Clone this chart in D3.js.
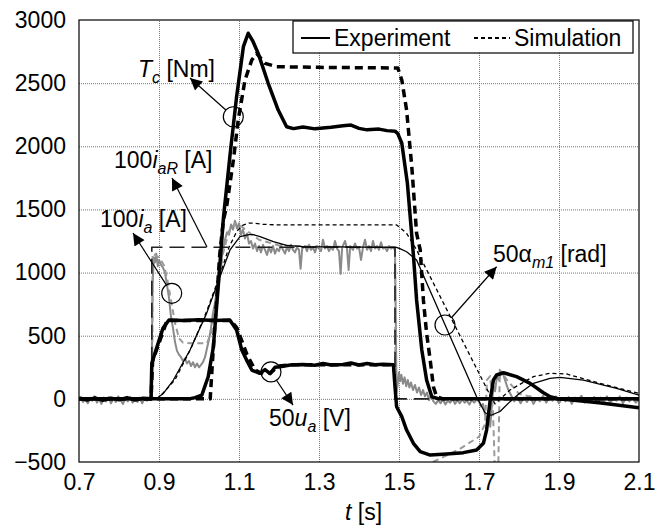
<!DOCTYPE html>
<html>
<head>
<meta charset="utf-8">
<script src="https://cdn.jsdelivr.net/npm/d3@7"></script>
<style>
  body { margin: 0; background: #fff; }
  svg { font-family: Arial, "Liberation Sans", sans-serif; }
</style>
</head>
<body>
<svg id="chart" width="662" height="529"></svg>
<script>
// axis ticks
var xTicks = [0.7, 0.9, 1.1, 1.3, 1.5, 1.7, 1.9, 2.1];
var yTicks = [-500, 0, 500, 1000, 1500, 2000, 2500, 3000];
var legendLabels = ["Experiment", "Simulation"];

// [t, value] pairs
var tcExp = [[0.7,0],[0.975,0],[0.99,10],[1.007,30],[1.023,175],[1.036,413],[1.048,888],[1.061,1430],[1.078,1944],[1.094,2393],[1.111,2789],[1.123,2895],[1.135,2830],[1.148,2736],[1.173,2499],[1.198,2287],[1.219,2155],[1.236,2140],[1.26,2152],[1.29,2138],[1.33,2150],[1.36,2162],[1.38,2168],[1.4,2142],[1.42,2130],[1.45,2136],[1.47,2124],[1.49,2120],[1.497,2100],[1.507,2024],[1.521,1707],[1.536,1140],[1.544,783],[1.557,387],[1.569,149],[1.582,17],[1.6,0],[2.1,0]];

var tcSim = [[0.7,0],[1.028,0],[1.036,413],[1.044,780],[1.052,1150],[1.061,1416],[1.069,1522],[1.086,1891],[1.098,2208],[1.115,2525],[1.132,2683],[1.144,2736],[1.165,2657],[1.194,2630],[1.3,2625],[1.497,2620],[1.507,2525],[1.519,2287],[1.532,1838],[1.544,1311],[1.553,1179],[1.561,783],[1.569,519],[1.578,307],[1.586,96],[1.594,17],[1.61,0],[2.1,0]];

var uaExp = [[0.7,5],[0.72,-10],[0.74,8],[0.76,-12],[0.78,6],[0.8,-8],[0.82,10],[0.84,-10],[0.86,5],[0.88,0],[0.882,280],[0.895,413],[0.91,560],[0.925,624],[0.96,620],[1.0,626],[1.04,620],[1.077,624],[1.094,545],[1.107,387],[1.119,307],[1.132,228],[1.152,202],[1.165,232],[1.178,200],[1.19,250],[1.203,255],[1.228,268],[1.26,272],[1.29,266],[1.31,280],[1.33,268],[1.36,272],[1.38,284],[1.4,268],[1.42,280],[1.44,270],[1.46,274],[1.486,270],[1.49,96],[1.494,-62],[1.507,-141],[1.519,-247],[1.536,-352],[1.553,-418],[1.578,-445],[1.619,-437],[1.661,-426],[1.694,-405],[1.711,-352],[1.719,-247],[1.728,-9],[1.736,149],[1.744,189],[1.761,207],[1.794,176],[1.828,123],[1.86,50],[1.878,17],[1.9,0],[2.0,-30],[2.1,-70]];

var uaSim = [[0.7,0],[0.88,0],[0.884,300],[0.92,620],[1.08,620],[1.095,560],[1.12,350],[1.14,230],[1.16,195],[1.18,210],[1.2,260],[1.23,270],[1.49,270]];

var iaExp = [[0.7,-10],[0.705,15],[0.71,-25],[0.716,5],[0.722,-35],[0.728,10],[0.733,-15],[0.739,20],[0.745,-30],[0.75,0],[0.756,-40],[0.762,10],[0.768,-20],[0.774,15],[0.78,-35],[0.786,5],[0.792,-25],[0.798,20],[0.804,-10],[0.81,-40],[0.816,5],[0.822,-20],[0.828,15],[0.834,-30],[0.84,0],[0.846,-25],[0.852,10],[0.858,-35],[0.864,5],[0.87,-15],[0.876,10],[0.881,-5],
  [0.884,900],[0.887,1120],[0.89,1080],[0.893,1150],[0.897,1050],[0.9,1100],[0.905,1060],[0.91,1040],[0.915,1000],[0.92,900],[0.925,800],[0.93,650],[0.935,560],[0.94,450],[0.945,380],[0.95,350],[0.955,330],[0.96,300],[0.965,320],[0.97,280],[0.975,300],[0.98,260],[0.985,290],[0.99,250],[0.995,280],[1.0,250],[1.005,270],[1.01,290],[1.015,330],[1.02,400],[1.025,470],[1.03,560],[1.035,680],[1.04,760],[1.045,880],[1.05,980],[1.055,1080],[1.06,1180],[1.065,1260],[1.07,1320],[1.075,1300],[1.08,1380],[1.085,1340],[1.09,1410],[1.095,1350],[1.1,1390],[1.105,1300],[1.11,1340],[1.115,1270],[1.12,1310],[1.125,1230],
  [1.13,1250],[1.135,1190],[1.14,1230],[1.145,1170],[1.15,1210],[1.155,1160],[1.16,1220],[1.165,1180],[1.17,1140],[1.175,1200],[1.18,1160],[1.185,1210],[1.19,1150],[1.195,1190],[1.2,1170],[1.205,1220],[1.21,1180],[1.215,1150],[1.22,1200],[1.225,1170],[1.23,1220],[1.235,1180],[1.24,1160],[1.245,1200],[1.25,1180],[1.254,1030],[1.258,1190],[1.265,1210],[1.27,1170],[1.275,1220],[1.28,1180],[1.285,1200],[1.29,1160],[1.295,1210],[1.3,1190],[1.305,1170],[1.31,1260],[1.315,1190],[1.32,1210],[1.325,1170],[1.33,1200],[1.335,1180],[1.34,1250],[1.345,1190],[1.35,1170],[1.354,990],[1.358,1200],[1.365,1250],[1.37,1190],[1.374,1020],[1.378,1210],[1.385,1180],[1.39,1230],[1.395,1190],[1.4,1200],[1.405,1100],[1.41,1200],[1.415,1260],[1.42,1180],[1.425,1210],[1.43,1170],[1.435,1250],[1.44,1190],[1.445,1210],[1.45,1180],[1.455,1240],[1.46,1190],[1.465,1200],[1.47,1170],[1.475,1210],[1.48,1190],[1.485,1200],[1.49,1180],
  [1.492,600],[1.494,50],[1.497,120],[1.5,210],[1.503,140],[1.506,190],[1.51,120],[1.514,170],[1.518,100],[1.522,150],[1.526,90],[1.53,130],[1.535,70],[1.54,110],[1.545,50],[1.55,90],[1.555,30],[1.56,70],[1.565,20],[1.57,50],[1.575,-10],[1.58,30],[1.586,-20],[1.592,-40],[1.598,-10],[1.604,-35],[1.61,-5],[1.616,-45],[1.622,-15],[1.628,-30],[1.634,0],[1.64,-40],[1.646,-10],[1.652,-35],[1.658,-5],[1.664,-30],[1.67,-15],[1.676,-45],[1.682,-10],[1.688,-30],[1.694,-5],[1.7,-20],[1.705,-60],[1.71,-40],[1.715,-120],[1.72,-180],[1.725,-100],[1.728,-220],[1.732,-60],[1.736,100],[1.74,60],[1.745,180],[1.75,150],[1.755,210],[1.76,200],[1.765,150],[1.77,100],[1.775,60],[1.78,30],
  [1.788,-20],[1.796,15],[1.804,-35],[1.812,10],[1.82,-25],[1.828,20],[1.836,-40],[1.844,5],[1.852,-20],[1.86,25],[1.868,-30],[1.876,10],[1.884,-15],[1.892,20],[1.9,-35],[1.908,5],[1.916,-20],[1.924,15],[1.932,-40],[1.94,10],[1.948,-15],[1.956,25],[1.964,-30],[1.972,5],[1.98,-20],[1.988,15],[1.996,-35],[2.004,10],[2.012,-25],[2.02,20],[2.028,-30],[2.036,5],[2.044,-15],[2.052,20],[2.06,-35],[2.068,10],[2.076,-20],[2.084,5],[2.092,-30],[2.1,0]];

var iaSim = [[0.7,0],[0.883,0],[0.884,1150],[0.9,1120],[0.912,1060],[0.92,960],[0.93,780],[0.94,600],[0.95,480],[0.96,445],[0.98,440],[1.02,440],[1.03,520],[1.045,800],[1.06,1150],[1.075,1330],[1.09,1390],[1.1,1380],[1.12,1330],[1.15,1260],[1.2,1215],[1.3,1205],[1.49,1200],[1.491,0],[1.5,0],[1.5,null],
  [1.585,-500],[1.65,-400],[1.7,-300],[1.715,-200],[1.72,150],[1.728,180],[1.735,-100],[1.74,-600],[1.748,-600],[1.752,230],[1.77,150],[1.8,40],[1.85,0],[1.9,0],[2.0,-30],[2.1,-70]];

var iaRef = [[0.7,0],[0.882,0],[0.882,1200],[1.49,1200],[1.49,0],[2.1,0]];

var alphaExp = [[0.7,0],[0.885,0],[0.894,3],[0.91,40],[0.936,149],[0.9775,387],[1.019,677],[1.0525,967],[1.0775,1179],[1.1025,1284],[1.125,1300],[1.136,1300],[1.1525,1284],[1.186,1245],[1.219,1215],[1.26,1205],[1.494,1200],[1.505,1185],[1.519,1165],[1.544,1100],[1.694,17],[1.715,-110],[1.73,-130],[1.7525,-100],[1.7775,-22],[1.8,40],[1.836,123],[1.8775,162],[1.9025,170],[1.961,149],[2.044,83],[2.1,30]];

var alphaSim = [[0.7,0],[0.89,0],[0.9,10],[0.94,150],[0.98,400],[1.02,700],[1.05,960],[1.075,1200],[1.095,1330],[1.11,1375],[1.125,1392],[1.14,1390],[1.16,1382],[1.2,1377],[1.494,1377],[1.519,1311],[1.544,1179],[1.7275,30],[1.74,-40],[1.7775,70],[1.836,176],[1.8775,202],[1.919,197],[2.0025,123],[2.1,44]];

var margin = {top: 20, right: 23, bottom: 67, left: 79},
  width = 662 - margin.left - margin.right,
  height = 529 - margin.top - margin.bottom;

var fs = 23;

var x = d3.scaleLinear().domain([0.7, 2.1]).range([margin.left, margin.left + width]);
var y = d3.scaleLinear().domain([-500, 3000]).range([margin.top + height, margin.top]);

var svg = d3.select("#chart");

svg.append("defs").append("clipPath").attr("id", "plot")
  .append("rect")
  .attr("x", margin.left).attr("y", margin.top)
  .attr("width", width).attr("height", height);

var marker = svg.select("defs").append("marker")
  .attr("id", "arrow")
  .attr("viewBox", "0 0 10 10")
  .attr("refX", 10).attr("refY", 5)
  .attr("markerUnits", "userSpaceOnUse")
  .attr("markerWidth", 16).attr("markerHeight", 12)
  .attr("orient", "auto");
marker.append("path").attr("d", "M0,0L10,5L0,10Z").attr("fill", "#000");

// grid
svg.append("g")
  .attr("transform", "translate(0," + (margin.top + height) + ")")
  .call(d3.axisBottom(x).tickValues(xTicks.slice(1, -1)).tickSize(-height).tickFormat(""))
  .call(g => g.select(".domain").remove())
  .selectAll("line")
  .attr("stroke", "#777").attr("stroke-width", 1).attr("stroke-dasharray", "1,1");

svg.append("g")
  .attr("transform", "translate(" + margin.left + ",0)")
  .call(d3.axisLeft(y).tickValues(yTicks.slice(1, -1)).tickSize(-width).tickFormat(""))
  .call(g => g.select(".domain").remove())
  .selectAll("line")
  .attr("stroke", "#777").attr("stroke-width", 1).attr("stroke-dasharray", "1,1");

var line = d3.line()
  .defined(d => d[1] !== null)
  .x(d => x(d[0]))
  .y(d => y(d[1]));

var plot = svg.append("g").attr("clip-path", "url(#plot)");

function draw(data, color, w, dash) {
  plot.append("path")
    .datum(data)
    .attr("fill", "none")
    .attr("stroke", color)
    .attr("stroke-width", w)
    .attr("stroke-dasharray", dash || null)
    .attr("stroke-linejoin", "round")
    .attr("d", line);
}

draw(iaExp, "#8a8a8a", 2);
draw(iaSim, "#9a9a9a", 2, "6,4");
draw(iaRef, "#222", 1.6, "15,7");
draw(alphaSim, "#000", 1.3, "4,3");
draw(alphaExp, "#000", 1.3);
draw(uaSim, "#000", 3.5, "8,5");
draw(tcSim, "#000", 3.5, "8,5");
draw(uaExp, "#000", 3.5);
draw(tcExp, "#000", 3.5);

// frame
svg.append("rect")
  .attr("x", margin.left).attr("y", margin.top)
  .attr("width", width).attr("height", height)
  .attr("fill", "none").attr("stroke", "#000").attr("stroke-width", 1.2);

// axes labels
var xAxis = svg.append("g")
  .attr("transform", "translate(0," + (margin.top + height) + ")")
  .call(d3.axisBottom(x).tickValues(xTicks).tickSize(0).tickPadding(12).tickFormat(d3.format(".1f")));
var yAxis = svg.append("g")
  .attr("transform", "translate(" + margin.left + ",0)")
  .call(d3.axisLeft(y).tickValues(yTicks).tickSize(0).tickPadding(13).tickFormat(d3.format("d")));
[xAxis, yAxis].forEach(g => {
  g.select(".domain").remove();
  g.selectAll("text").attr("font-size", fs).attr("font-family", "Arial, 'Liberation Sans', sans-serif").attr("fill", "#000");
});

var xl = svg.append("text")
  .attr("x", x(1.4) - 14).attr("y", 520)
  .attr("font-size", fs);
xl.append("tspan").attr("font-style", "italic").text("t");
xl.append("tspan").text(" [s]");

// legend
var lg = svg.append("g");
lg.append("rect").attr("x", 293).attr("y", 21).attr("width", 340).attr("height", 32)
  .attr("fill", "#fff").attr("stroke", "#000").attr("stroke-width", 1.2);
lg.append("line").attr("x1", 301).attr("x2", 330).attr("y1", 38).attr("y2", 38)
  .attr("stroke", "#000").attr("stroke-width", 2);
lg.append("text").attr("x", 334).attr("y", 46).attr("font-size", fs).text(legendLabels[0]);
lg.append("line").attr("x1", 474).attr("x2", 510).attr("y1", 38).attr("y2", 38)
  .attr("stroke", "#000").attr("stroke-width", 2).attr("stroke-dasharray", "4,3");
lg.append("text").attr("x", 514).attr("y", 46).attr("font-size", fs).text(legendLabels[1]);

// annotations
function label(t, v, parts) {
  var tx = svg.append("text").attr("x", x(t)).attr("y", y(v)).attr("font-size", fs);
  parts.forEach(p => {
    var s = tx.append("tspan").text(p.s);
    if (p.i) s.attr("font-style", "italic");
    if (p.sub) s.attr("font-size", 16).attr("dy", 6);
    if (p.up) s.attr("dy", -6);
  });
}

function pointer(ct, cv, tt, tv, circle) {
  var cx = x(ct), cy = y(cv), tx = x(tt), ty = y(tv);
  var r = 10;
  var dx = tx - cx, dy = ty - cy, L = Math.sqrt(dx * dx + dy * dy);
  var sx = circle ? cx + dx / L * r : cx, sy = circle ? cy + dy / L * r : cy;
  if (circle) {
    svg.append("circle").attr("cx", cx).attr("cy", cy).attr("r", r)
      .attr("fill", "none").attr("stroke", "#000").attr("stroke-width", 1.2);
  }
  svg.append("line").attr("x1", sx).attr("y1", sy).attr("x2", tx).attr("y2", ty)
    .attr("stroke", "#000").attr("stroke-width", 1.2).attr("marker-end", "url(#arrow)");
}

label(0.8475, 2549, [{s: "T", i: true}, {s: "c", i: true, sub: true}, {s: " [Nm]", up: true}]);
pointer(1.0858, 2234, 0.9775, 2541, true);

label(0.7875, 1828, [{s: "100"}, {s: "i", i: true}, {s: "aR", i: true, sub: true}, {s: " [A]", up: true}]);
pointer(1.02, 1202, 0.9325, 1749, false);

label(0.7525, 1361, [{s: "100"}, {s: "i", i: true}, {s: "a", i: true, sub: true}, {s: " [A]", up: true}]);
pointer(0.9318, 836, 0.835, 1313, true);

label(1.175, -215, [{s: "50"}, {s: "u", i: true}, {s: "a", i: true, sub: true}, {s: " [V]", up: true}]);
pointer(1.18, 213, 1.235, -49, true);

label(1.735, 1084, [{s: "50α"}, {s: "m1", i: true, sub: true}, {s: " [rad]", up: true}]);
pointer(1.615, 585, 1.744, 1046, true);
</script>
</body>
</html>
